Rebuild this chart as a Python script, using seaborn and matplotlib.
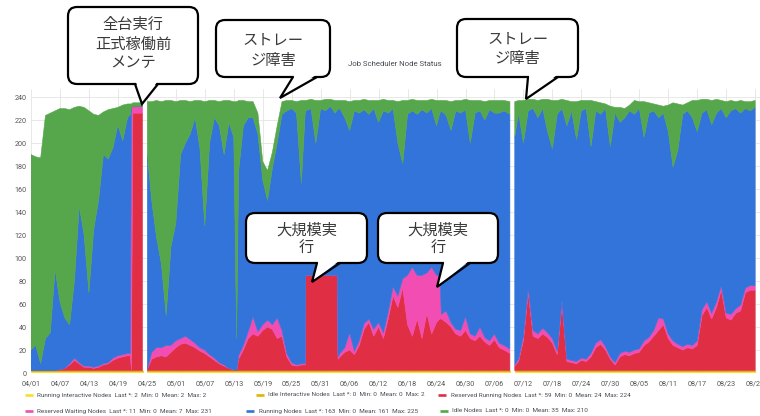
import matplotlib
matplotlib.use("Agg")
import matplotlib.pyplot as plt
import matplotlib.dates as mdates
from matplotlib.patches import FancyBboxPatch, Polygon
from matplotlib.lines import Line2D
import numpy as np
import pandas as pd
import seaborn as sns

START = pd.Timestamp("2021-04-01")

# sample times, in days after 04/01 (None rows = no data)
days = [0, 1, 2, 3, 4, 5, 6, 7, 8, 9, 10, 11, 12, 13, 14, 15, 16, 17, 18, 19, 20,
        20.6, 20.8, 21.1, 23.1, 23.6, 24.1,
        25, 26, 27, 28, 29, 30, 31, 32, 33, 34, 35, 36, 37, 38, 39, 40, 41, 42, 42.6,
        43, 44, 45, 46, 47, 48, 49, 50, 51, 52, 53, 54, 55, 56, 56.8, 56.9,
        58, 59, 60, 61, 62, 63, 63.5, 63.6,
        64, 65, 66, 67, 68, 69, 70, 71, 72, 73, 74, 75, 76, 77, 78, 79, 80, 81, 82, 83, 84, 84.7,
        85, 86, 87, 88, 89, 90, 91, 92, 93, 94, 95, 96, 97, 98, 99.2, 99.7, 100.2,
        101, 102, 103, 104, 105, 106, 107, 108, 109, 110,
        111, 112, 113, 114, 115, 116, 117, 118, 119, 120,
        121, 122, 123, 124, 125, 126, 127, 128, 129, 130,
        131, 132, 133, 134, 135, 136, 137, 138, 139, 140,
        141, 142, 143, 144, 145, 146, 147, 148, 149, 150]

reserved_running = [0, 0, 0, 0, 0, 0, 1, 2, 5, 9, 6, 3, 3, 2, 3, 5, 6, 9, 11, 12, 13,
                    13, 0, 224, 224, None, 1,
                    10, 12, 13, 12, 16, 20, 23, 24, 22, 20, 17, 15, 12, 9, 6, 4, 2, 1, 0,
                    10, 18, 28, 32, 30, 35, 38, 36, 28, 30, 12, 5, 4, 5, 5, 83,
                    83, 83, 83, 83, 83, 83, 83, 10,
                    12, 16, 18, 14, 22, 36, 42, 30, 38, 28, 45, 65, 55, 72, 40, 30, 45, 28, 50, 32, 42, 45,
                    45, 42, 38, 32, 30, 35, 28, 26, 30, 25, 22, 27, 20, 18, 15, None, 4,
                    8, 26, 68, 30, 28, 32, 29, 24, 14, 58,
                    8, 7, 6, 9, 8, 12, 20, 23, 18, 10,
                    5, 12, 14, 13, 15, 16, 22, 25, 30, 35,
                    40, 28, 22, 20, 18, 20, 19, 22, 48, 55,
                    45, 55, 70, 46, 44, 50, 52, 68, 70, 70]

reserved_waiting = [0, 0, 0, 0, 0, 0, 0, 0, 1, 2, 1, 1, 1, 1, 1, 1, 1, 2, 2, 2, 2,
                    2, 229, 6, 6, None, 0,
                    6, 8, 7, 10, 6, 6, 5, 6, 5, 4, 3, 3, 2, 2, 1, 1, 0, 0, 0,
                    3, 4, 6, 15, 4, 5, 6, 4, 18, 5, 3, 2, 1, 1, 1, 0,
                    0, 0, 0, 0, 0, 0, 0, 2,
                    3, 4, 15, 3, 4, 5, 3, 6, 4, 5, 6, 8, 10, 8, 43, 60, 38, 55, 35, 58, 41, 38,
                    4, 10, 4, 4, 5, 12, 4, 4, 8, 4, 4, 5, 4, 4, 4, None, 1,
                    2, 4, 4, 5, 4, 5, 4, 4, 3, 3,
                    2, 2, 2, 2, 2, 3, 4, 4, 3, 2,
                    2, 3, 3, 3, 3, 3, 4, 4, 5, 11,
                    5, 4, 4, 3, 3, 3, 3, 4, 5, 5,
                    5, 5, 4, 4, 5, 4, 5, 4, 4, 4]

running = [18, 22, 6, 28, 33, 88, 59, 44, 34, 67, 136, 114, 64, 120, 144, 182, 177, 183, 201, 186, 205,
           208, 0, 0, 0, None, 187,
           132, 96, 73, 26, 86, 102, 160, 168, 179, 196, 173, 108, 184, 209, 206, 183, 214, 202, 28,
           160, 191, 186, 173, 172, 126, 104, 136, 152, 188, 211, 221, 219, 157, 218, 143,
           145, 115, 145, 143, 147, 141, 144, 215,
           213, 200, 176, 209, 198, 186, 178, 192, 174, 193, 173, 155, 133, 100, 140, 136, 140, 144, 139, 138, 130, 141,
           177, 170, 167, 190, 189, 180, 166, 194, 188, 189, 201, 192, 200, 204, 204, None, 198,
           214, 168, 154, 193, 188, 191, 175, 165, 206, 167,
           203, 217, 193, 215, 218, 180, 202, 196, 207, 183,
           217, 201, 203, 210, 205, 209, 177, 195, 191, 174,
           179, 176, 151, 169, 202, 203, 198, 182, 171, 167,
           164, 164, 154, 170, 177, 174, 167, 156, 152, 155]

idle = [170, 164, 179, 194, 191, 138, 168, 182, 187, 151, 87, 111, 158, 100, 74, 37, 43, 34, 15, 31, 12,
        9, 3, 3, 3, None, 46,
        86, 119, 141, 187, 127, 106, 47, 37, 28, 15, 42, 108, 37, 15, 21, 47, 19, 31, 206,
        62, 22, 14, 14, 18, 16, 26, 14, 15, 11, 9, 7, 10, 72, 11, 9,
        8, 37, 7, 10, 6, 11, 8, 8,
        7, 15, 25, 9, 11, 9, 12, 7, 19, 10, 11, 7, 36, 55, 12, 10, 12, 8, 11, 8, 22, 11,
        9, 13, 25, 9, 11, 9, 37, 11, 9, 16, 8, 11, 11, 9, 11, None, 31,
        11, 37, 10, 8, 15, 8, 28, 42, 12, 8,
        22, 8, 33, 9, 7, 40, 8, 10, 4, 35,
        5, 13, 8, 5, 12, 6, 31, 9, 6, 11,
        6, 23, 56, 40, 8, 7, 15, 27, 12, 9,
        21, 12, 7, 14, 9, 6, 11, 6, 8, 6]

running_interactive_level = 2
idle_interactive_level = 0

series_names = ["Running Interactive Nodes", "Idle Interactive Nodes", "Reserved Running Nodes",
                "Reserved Waiting Nodes", "Running Nodes", "Idle Nodes"]
series_stats = ["Last *: 2  Min: 0  Mean: 2  Max: 2",
                "Last *: 0  Min: 0  Mean: 0  Max: 2",
                "Last *: 59  Min: 0  Mean: 24  Max: 224",
                "Last *: 11  Min: 0  Mean: 7  Max: 231",
                "Last *: 163  Min: 0  Mean: 161  Max: 225",
                "Last *: 0  Min: 0  Mean: 35  Max: 210"]
colors = ["#FADE2A", "#E0B400", "#E02F44", "#F24DB2", "#3274D9", "#56A64B"]

callout_texts = ["全台実行\n正式稼働前\nメンテ", "ストレー\nジ障害", "ストレー\nジ障害",
                 "大規模実\n行", "大規模実\n行"]

# ---------------------------------------------------------------------------
sns.set_theme(style="white")
plt.rcParams["font.family"] = ["Roboto", "Noto Sans CJK JP", "DejaVu Sans"]

W, H = 760, 416
fig = plt.figure(figsize=(W / 100, H / 100), dpi=100)
ax = fig.add_axes([31 / W, 1 - 373 / H, (W - 31) / W, (373 - 89) / H])

dates = (START + pd.to_timedelta(days, unit="D")).values
rr = np.array(reserved_running, dtype=float)
rw = np.array(reserved_waiting, dtype=float)
rn = np.array(running, dtype=float)
idl = np.array(idle, dtype=float)
gap = np.isnan(rn)
ri = np.where(gap, np.nan, running_interactive_level)
ii = np.where(gap, np.nan, idle_interactive_level)

polys = ax.stackplot(dates, ri, ii, rr, rw, rn, idl, colors=colors, zorder=2)
for p, c in zip(polys, colors):
    p.set_edgecolor(c)
    p.set_linewidth(0.4)

ticks = START + pd.to_timedelta(np.arange(0, 151, 6), unit="D")
ax.set_xticks(ticks.values)
ax.xaxis.set_major_formatter(mdates.DateFormatter("%m/%d"))
ax.set_xlim(START, START + pd.Timedelta(days=151))
ax.set_ylim(0, 247)
ax.set_yticks(np.arange(0, 241, 20))
ax.grid(True, color="#e4e4e4", linewidth=0.6, zorder=0)
ax.set_axisbelow(True)
ax.tick_params(axis="both", length=0, labelsize=5.2, labelcolor="#555555")
ax.tick_params(axis="x", pad=5.4)
ax.tick_params(axis="y", pad=3)
sns.despine(ax=ax, left=True, bottom=True)

fig.text(395 / W, 1 - 64 / H, "Job Scheduler Node Status", ha="center", va="center",
         fontsize=5.6, color="#464c54")

# legend, laid out as in the panel
legend_pos = [(25, 37, 395), (256, 268, 395), (438, 451, 395),
              (25, 37, 411), (246, 259, 411), (440, 452, 411)]
for (dx, tx, ly), name, stat, c in zip(legend_pos, series_names, series_stats, colors):
    fig.add_artist(Line2D([dx / W, (dx + 8) / W], [1 - ly / H, 1 - ly / H], color=c,
                          linewidth=1.9, solid_capstyle="butt"))
    fig.text(tx / W, 1 - ly / H, f"{name}  {stat}", ha="left", va="center",
             fontsize=4.6, color="#464c54")

# callout bubbles in pixel coordinates
ov = fig.add_axes([0, 0, 1, 1], zorder=5)
ov.set_xlim(0, W)
ov.set_ylim(H, 0)
ov.axis("off")
ov.patch.set_alpha(0)

bubbles = [
    # box x0, y0, x1, y1, tail base left, base right, tip x, tip y, text line ys
    (68, 7, 198, 84, 135, 158, 142, 104, [24, 44, 63]),
    (216, 20, 330, 77, 293, 317, 280, 98, [40, 60]),
    (457, 19, 578, 77, 528, 558, 526, 99, [39, 58]),
    (246, 213, 367, 263, 317, 340, 312, 282, [230, 248]),
    (378, 213, 498, 263, 443, 470, 437, 287, [230, 248]),
]
for (x0, y0, x1, y1, bl, br, tx, ty, lys), txt in zip(bubbles, callout_texts):
    ov.add_patch(FancyBboxPatch((x0, y0), x1 - x0, y1 - y0,
                                boxstyle="round,pad=0,rounding_size=9",
                                facecolor="white", edgecolor="black", linewidth=1.6))
    ov.add_patch(Polygon([(bl + 1, y1 - 2), (br - 1, y1 - 2), (tx, ty)], closed=True,
                         facecolor="white", edgecolor="none", zorder=3))
    ov.add_line(Line2D([bl, tx, br], [y1, ty, y1], color="black", linewidth=1.6,
                       solid_joinstyle="miter", zorder=4))
    cx = (x0 + x1) / 2
    for line, yy in zip(txt.split("\n"), lys):
        ov.text(cx, yy, line, ha="center", va="center", fontsize=11,
                family=["Noto Sans CJK JP", "DejaVu Sans"], color="#3a3a3a", zorder=5)

fig.savefig("out.png", dpi=100)
